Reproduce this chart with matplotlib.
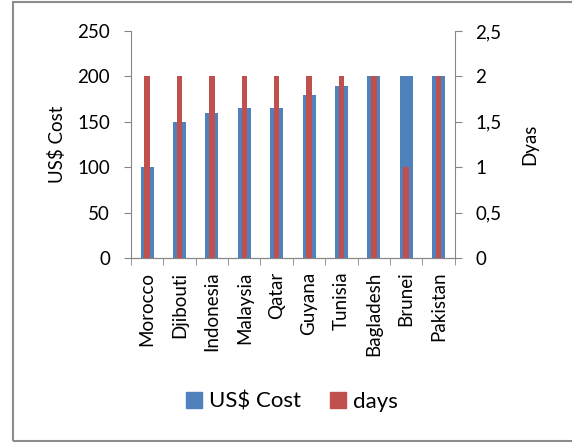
import numpy as np
import matplotlib
matplotlib.use("Agg")
import matplotlib.pyplot as plt
from matplotlib.patches import Rectangle, Patch
from matplotlib.ticker import FuncFormatter, FixedLocator

plt.rcParams['font.family'] = ['Lato', 'DejaVu Sans']

# data
countries = ["Morocco", "Djibouti", "Indonesia", "Malaysia", "Qatar",
             "Guyana", "Tunisia", "Bagladesh", "Brunei", "Pakistan"]
cost_usd = [100, 150, 160, 165, 165, 180, 190, 200, 200, 200]
days = [2, 2, 2, 2, 2, 2, 2, 2, 1, 2]

blue = "#4F81BD"
red = "#C0504D"
axis_gray = "#868686"

fig = plt.figure(figsize=(5.72, 4.44), dpi=100)
ax = fig.add_axes([0.229, 0.419, 0.566, 0.511])
ax2 = ax.twinx()

x = np.arange(len(countries))
ax.bar(x, cost_usd, width=0.40, color=blue, zorder=2)
ax2.bar(x, days, width=0.17, color=red, zorder=3)

ax.set_xlim(-0.5, len(countries) - 0.5)
ax.set_ylim(0, 250)
ax2.set_ylim(0, 2.5)
ax.set_yticks([0, 50, 100, 150, 200, 250])
ax2.set_yticks([0, 0.5, 1, 1.5, 2, 2.5])
ax2.yaxis.set_major_formatter(FuncFormatter(lambda v, p: f"{v:g}".replace(".", ",")))

ax.set_xticks(x)
ax.set_xticklabels(countries, rotation=90, fontsize=13.5)
ax.xaxis.set_minor_locator(FixedLocator(np.arange(-0.5, len(countries), 1.0)))
ax.tick_params(axis='x', which='major', length=0, pad=10)
ax.tick_params(axis='x', which='minor', length=5, color=axis_gray, direction='out')
ax.tick_params(axis='y', length=5, color=axis_gray, labelsize=13.5, pad=10)
ax2.tick_params(axis='y', length=5, color=axis_gray, labelsize=13.5, pad=10)

for a in (ax, ax2):
    a.spines['top'].set_visible(False)
    for s in ('left', 'right', 'bottom'):
        a.spines[s].set_color(axis_gray)
ax.spines['right'].set_visible(False)
ax2.spines['left'].set_visible(False)

ax.set_ylabel("US$ Cost", fontsize=13.5, labelpad=8)
ax2.set_ylabel("Dyas", fontsize=13.5, labelpad=14)

handles = [Patch(color=blue, label="US$ Cost"), Patch(color=red, label="days")]
fig.legend(handles=handles, loc='center', bbox_to_anchor=(0.51, 0.095), ncol=2,
           frameon=False, fontsize=16, handlelength=0.75, handleheight=0.75,
           columnspacing=1.3, handletextpad=0.3)

# outer chart border (right edge runs off the canvas)
border = Rectangle((0.022, 0.006), 1.0, 0.99, transform=fig.transFigure,
                   fill=False, edgecolor="#8C8C8C", linewidth=1.5)
fig.patches.append(border)

fig.savefig("out.png", dpi=100)
